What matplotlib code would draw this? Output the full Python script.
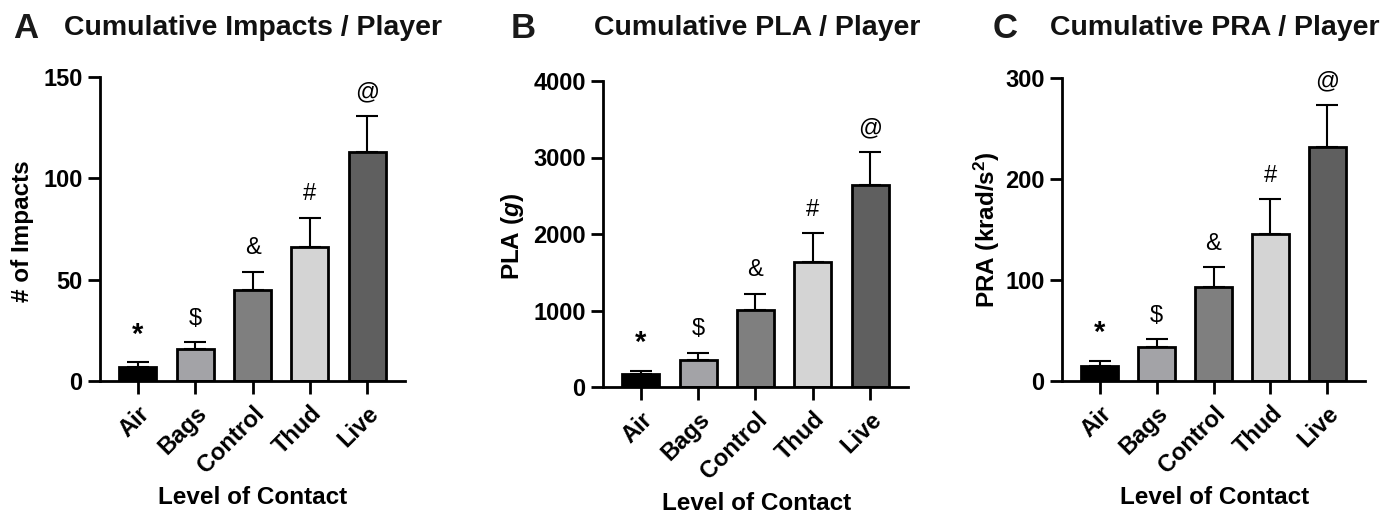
import matplotlib
matplotlib.use("Agg")
import matplotlib.pyplot as plt

plt.rcParams['font.family'] = ['Liberation Sans', 'DejaVu Sans']
plt.rcParams['font.weight'] = 'bold'
plt.rcParams['mathtext.fontset'] = 'custom'
plt.rcParams['mathtext.rm'] = 'Liberation Sans:bold'
plt.rcParams['mathtext.it'] = 'Liberation Sans:italic:bold'
plt.rcParams['mathtext.bf'] = 'Liberation Sans:bold'

# datos
niveles = ["Air", "Bags", "Control", "Thud", "Live"]
colores = ["#000000", "#a3a3a7", "#7f7f7f", "#d4d4d4", "#5f5f5f"]
simbolos = ["*", "$", "&", "#", "@"]

impactos = [7, 15.6, 45, 66, 113]
impactos_err = [2.2, 3.6, 9, 14.5, 18]

pla = [166, 357, 1011, 1630, 2640]
pla_err = [43, 92, 209, 383, 432]

pra = [15, 33.4, 93.5, 145.7, 232]
pra_err = [5, 7.9, 19.2, 34.3, 41]

paneles = [
    ("A", "Cumulative Impacts / Player", "# of Impacts", impactos, impactos_err, 150, [0, 50, 100, 150]),
    ("B", "Cumulative PLA / Player", "PLA ($\\mathit{g}$)", pla, pla_err, 4000, [0, 1000, 2000, 3000, 4000]),
    ("C", "Cumulative PRA / Player", "PRA (krad/s$^{2}$)", pra, pra_err, 300, [0, 100, 200, 300]),
]

# posiciones de los ejes en pixeles (izq, der, abajo, arriba)
cajas = [(100, 405, 381, 77), (603, 908, 387, 81), (1062, 1365, 381, 78)]
letras_x = [26, 523, 1005]
titulos_x = [253, 757, 1215]
ylabel_x = [22, 513, 987]
ylabel_y = [231, 236, 230]
xlabel_y = [498, 503, 498]

W, H = 1398, 517
fig = plt.figure(figsize=(W / 100, H / 100), dpi=100)

for i, (letra, titulo, ylab, vals, errs, ymax, yt) in enumerate(paneles):
    l, r, b, t = cajas[i]
    ax = fig.add_axes([l / W, 1 - b / H, (r - l) / W, (b - t) / H])
    x = range(len(niveles))
    ax.bar(x, vals, width=0.65, color=colores, edgecolor="black", linewidth=2, zorder=2)
    ax.errorbar(x, vals, yerr=[[0] * len(vals), errs], fmt="none", ecolor="black",
                elinewidth=1.5, capsize=8, capthick=1.5, zorder=1)
    for xi, v, e, s in zip(x, vals, errs, simbolos):
        es_ast = s == "*"
        ax.annotate(s, (xi, v + e), xytext=(0, 9 if not es_ast else 10), textcoords="offset points",
                    ha="center", va="bottom", fontsize=21 if es_ast else 17,
                    fontweight="bold" if es_ast else "normal")
    ax.set_xlim(-0.66, 4.66)
    ax.set_ylim(0, ymax)
    ax.set_yticks(yt)
    ax.set_xticks(list(x))
    ax.set_xticklabels(niveles, rotation=45, ha="right", rotation_mode="anchor")
    ax.spines["top"].set_visible(False)
    ax.spines["right"].set_visible(False)
    ax.spines["left"].set_linewidth(2)
    ax.spines["bottom"].set_linewidth(2)
    ax.tick_params(axis="both", width=2, labelsize=17)
    ax.tick_params(axis="y", length=9)
    ax.tick_params(axis="x", length=9, pad=6)
    for lab in ax.get_xticklabels() + ax.get_yticklabels():
        lab.set_fontweight("bold")

    fig.text(letras_x[i] / W, 1 - 28 / H, letra, fontsize=25, fontweight="bold",
             ha="center", va="center", color="#1a1a1a")
    fig.text(titulos_x[i] / W, 1 - 28 / H, titulo, fontsize=20.5, fontweight="bold",
             ha="center", va="center", color="#111111")
    fig.text(ylabel_x[i] / W, 1 - ylabel_y[i] / H, ylab, fontsize=17.5, fontweight="bold",
             rotation=90, ha="center", va="center")
    fig.text(titulos_x[i] / W, 1 - xlabel_y[i] / H, "Level of Contact", fontsize=17.5,
             fontweight="bold", ha="center", va="center")

fig.savefig("out.png", dpi=100)
